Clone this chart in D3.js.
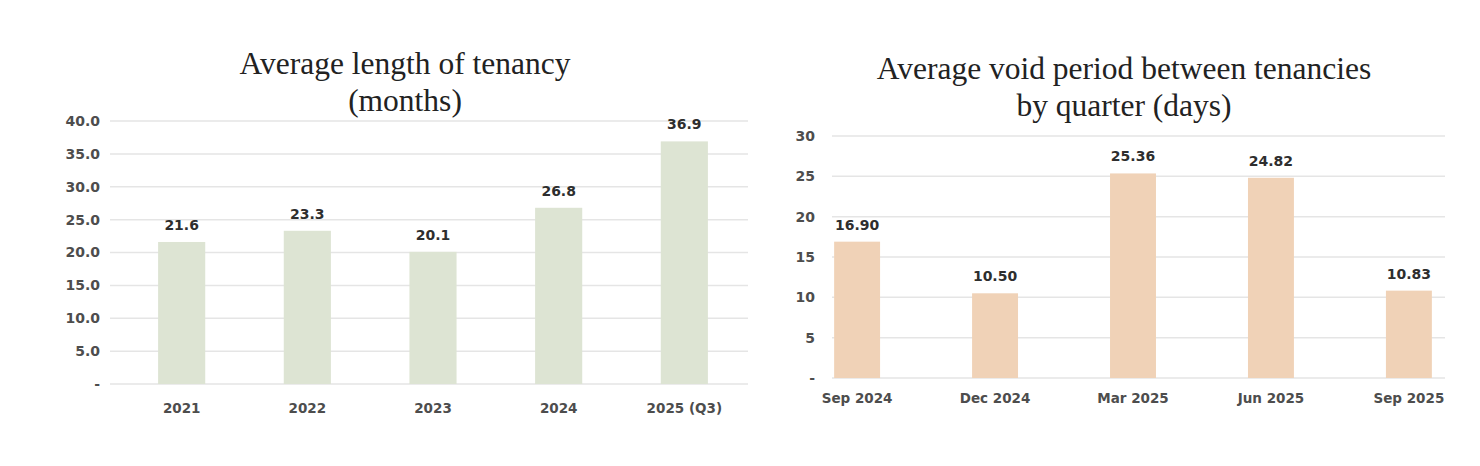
<!DOCTYPE html>
<html>
<head>
<meta charset="utf-8">
<script src="https://cdn.jsdelivr.net/npm/d3@7"></script>
<style>
  body { margin: 0; background: #fff; }
  .tick text { font-family: "DejaVu Sans", sans-serif; font-weight: bold; }
</style>
</head>
<body>
<div class="chart"></div>
<script>
// tenancy length, months
const years = ['2021', '2022', '2023', '2024', '2025 (Q3)']
const tenancyMonths = [21.6, 23.3, 20.1, 26.8, 36.9]
const tenancyTicks = [0, 5, 10, 15, 20, 25, 30, 35, 40]

// void period, days
const quarters = ['Sep 2024', 'Dec 2024', 'Mar 2025', 'Jun 2025', 'Sep 2025']
const voidDays = [16.90, 10.50, 25.36, 24.82, 10.83]
const voidTicks = [0, 5, 10, 15, 20, 25, 30]

const width = 1480
const height = 466

const svg = d3.select('.chart')
  .append('svg')
  .attr('width', width)
  .attr('height', height)
  .attr('viewBox', [0, 0, width, height])

function barChart(opt) {
  const g = svg.append('g')

  const x = d3.scaleBand()
    .domain(opt.cats)
    .range(opt.barRange)
    .paddingInner(opt.padIn)
    .paddingOuter(opt.padOut)

  const y = d3.scaleLinear()
    .domain([0, d3.max(opt.ticks)])
    .range([opt.bottom, opt.top])

  // gridlines
  g.append('g')
    .selectAll('line')
    .data(opt.ticks)
    .enter().append('line')
      .attr('x1', opt.gridX[0])
      .attr('x2', opt.gridX[1])
      .attr('y1', d => y(d))
      .attr('y2', d => y(d))
      .attr('stroke', '#e5e5e5')
      .attr('stroke-width', 1.5)

  // y axis labels
  const yAxis = g.append('g')
    .attr('transform', `translate(${opt.labelX},0)`)
    .call(d3.axisLeft(y).tickValues(opt.ticks).tickSize(0).tickPadding(0)
      .tickFormat(d => d === 0 ? '-' : opt.tickFmt(d)))
  yAxis.select('.domain').remove()
  yAxis.selectAll('text')
    .attr('fill', '#4d4d4d')
    .attr('font-size', opt.tickSize)

  // bars
  g.append('g')
    .selectAll('rect')
    .data(opt.values)
    .enter().append('rect')
      .attr('x', (d, i) => x(opt.cats[i]))
      .attr('width', x.bandwidth())
      .attr('y', d => y(d))
      .attr('height', d => y(0) - y(d))
      .attr('fill', opt.color)

  // value labels
  g.append('g')
    .selectAll('text')
    .data(opt.values)
    .enter().append('text')
      .attr('x', (d, i) => x(opt.cats[i]) + x.bandwidth() / 2)
      .attr('y', d => y(d) - 12)
      .attr('text-anchor', 'middle')
      .attr('font-family', '"DejaVu Sans", sans-serif')
      .attr('font-weight', 'bold')
      .attr('font-size', 14)
      .attr('fill', '#2e2e2e')
      .text(d => opt.valFmt(d))

  // x axis labels
  const xAxis = g.append('g')
    .attr('transform', `translate(0,${opt.bottom})`)
    .call(d3.axisBottom(x).tickSize(0).tickPadding(opt.xPad))
  xAxis.select('.domain').remove()
  xAxis.selectAll('text')
    .attr('fill', '#4d4d4d')
    .attr('font-size', 13.5)

  // title
  const title = g.append('text')
    .attr('text-anchor', 'middle')
    .attr('font-family', '"Liberation Serif", serif')
    .attr('font-size', 31.5)
    .attr('fill', '#222')
  opt.title.forEach((t, i) => {
    title.append('tspan')
      .attr('x', opt.titleX)
      .attr('y', opt.titleY + i * 37)
      .text(t)
  })
}

barChart({
  cats: years,
  values: tenancyMonths,
  ticks: tenancyTicks,
  barRange: [116, 750],
  padIn: 0.625,
  padOut: 0.335,
  gridX: [110, 748],
  top: 121,
  bottom: 384,
  labelX: 100,
  tickSize: 14,
  tickFmt: d3.format('.1f'),
  valFmt: d3.format('.1f'),
  color: '#dde4d3',
  xPad: 19,
  title: ['Average length of tenancy', '(months)'],
  titleX: 405,
  titleY: 74
})

barChart({
  cats: quarters,
  values: voidDays,
  ticks: voidTicks,
  barRange: [830, 1436],
  padIn: 0.667,
  padOut: 0.03,
  gridX: [832, 1445],
  top: 136,
  bottom: 378,
  labelX: 815,
  tickSize: 14,
  tickFmt: d3.format('d'),
  valFmt: d3.format('.2f'),
  color: '#f0d2b7',
  xPad: 15,
  title: ['Average void period between tenancies', 'by quarter (days)'],
  titleX: 1124,
  titleY: 79
})
</script>
</body>
</html>
